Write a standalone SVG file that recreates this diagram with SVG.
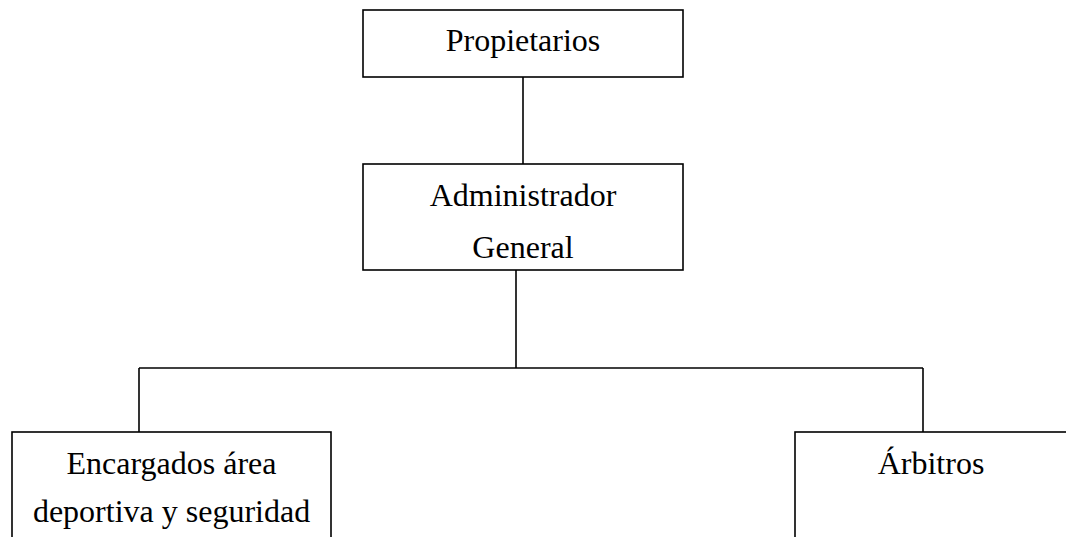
<svg xmlns="http://www.w3.org/2000/svg" width="1066" height="537" viewBox="0 0 1066 537">
<style>
.box{fill:#fff;stroke:#000;stroke-width:1.6}
.ln{stroke:#000;stroke-width:1.6;fill:none}
.t{font-family:"Liberation Serif","Times New Roman",serif;font-size:32px;fill:#000;text-anchor:middle}
</style>
<rect width="1066" height="537" fill="#fff"/>
<g id="connectors">
<line class="ln" x1="523" y1="77" x2="523" y2="164"/>
<line class="ln" x1="516" y1="270" x2="516" y2="368"/>
<line class="ln" x1="139" y1="368" x2="923" y2="368"/>
<line class="ln" x1="139" y1="368" x2="139" y2="432"/>
<line class="ln" x1="923" y1="368" x2="923" y2="432"/>
</g>
<g id="propietarios">
<rect class="box" x="363" y="10" width="320" height="67"/>
<text class="t" x="523" y="51">Propietarios</text>
</g>
<g id="administrador">
<rect class="box" x="363" y="164" width="320" height="106"/>
<text class="t" x="523" y="206">Administrador</text>
<text class="t" x="523" y="258">General</text>
</g>
<g id="encargados">
<rect class="box" x="12" y="432" width="319" height="120"/>
<text class="t" x="171.5" y="474">Encargados área</text>
<text class="t" x="171.5" y="522">deportiva y seguridad</text>
</g>
<g id="arbitros">
<rect class="box" x="795" y="432" width="300" height="120"/>
<text class="t" x="931" y="474">Árbitros</text>
</g>
</svg>
